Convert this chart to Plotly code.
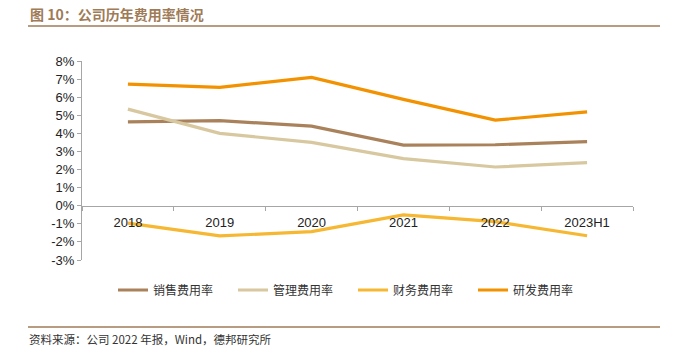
import plotly.graph_objects as go

categories = ["2018", "2019", "2020", "2021", "2022", "2023H1"]
sales = [4.64, 4.70, 4.40, 3.35, 3.37, 3.54]
admin = [5.34, 4.00, 3.50, 2.60, 2.14, 2.38]
finance = [-0.96, -1.67, -1.43, -0.51, -0.88, -1.66]
rnd = [6.72, 6.54, 7.09, 5.88, 4.73, 5.19]
names = ["销售费用率", "管理费用率", "财务费用率", "研发费用率"]
colors = ["#A9825C", "#D8C8A0", "#F6B733", "#F39200"]
y_ticks = list(range(-3, 9))

W, H = 676, 349
L, R, T, B = 82, 633, 61, 260


def px_x(x):
    return (x - L) / (R - L)


def px_y(y):
    return (B - y) / (B - T)


fig = go.Figure()
for name, vals, col in zip(names, [sales, admin, finance, rnd], colors):
    fig.add_trace(go.Scatter(x=categories, y=vals, name=name, mode="lines",
                             line=dict(color=col, width=3.2)))

ymin, ymax = -3, 8
zero_pos = (0 - ymin) / (ymax - ymin)

fig.update_layout(
    width=W, height=H,
    margin=dict(l=L, r=W - R, t=T, b=H - B, pad=0),
    paper_bgcolor="white", plot_bgcolor="white",
    font=dict(family="Liberation Sans, Arial", size=13, color="#222222"),
    showlegend=True,
    legend=dict(orientation="h", x=px_x(113), y=px_y(290), yanchor="middle", xanchor="left",
                entrywidth=75, entrywidthmode="pixels",
                font=dict(family="Noto Sans CJK SC", size=12, color="#333333"),
                itemwidth=30, tracegroupgap=0),
    xaxis=dict(type="category", range=[-0.5, 5.5], anchor="free", position=zero_pos,
               showline=True, linecolor="#A6A6A6", linewidth=1,
               ticks="outside", tickson="boundaries", ticklen=4, tickcolor="#A6A6A6",
               ticklabelstandoff=5,
               showgrid=False, zeroline=False, tickfont=dict(size=13, color="#222222")),
    yaxis=dict(range=[ymin, ymax], tickvals=y_ticks, ticktext=[f"{v}%" for v in y_ticks],
               showline=True, linecolor="#A6A6A6", linewidth=1,
               ticks="outside", ticklen=4, tickcolor="#A6A6A6",
               showgrid=False, zeroline=False, tickfont=dict(size=13, color="#222222")),
)

fig.add_annotation(text="<b>图 10：公司历年费用率情况</b>", xref="paper", yref="paper",
                   x=px_x(28), y=px_y(14), xanchor="left", yanchor="middle", showarrow=False,
                   font=dict(family="Noto Sans CJK SC", size=14, color="#A07B57"))
fig.add_annotation(text="资料来源：公司 2022 年报，Wind，德邦研究所", xref="paper", yref="paper",
                   x=px_x(28), y=px_y(339), xanchor="left", yanchor="middle", showarrow=False,
                   borderpad=0,
                   font=dict(family="Noto Sans CJK SC", size=11.5, color="#333333"))
for yy in (26, 327):
    fig.add_shape(type="line", xref="paper", yref="paper",
                  x0=px_x(28), x1=px_x(660), y0=px_y(yy), y1=px_y(yy),
                  line=dict(color="#A07B57", width=1.5))

fig.write_html("out.html")
